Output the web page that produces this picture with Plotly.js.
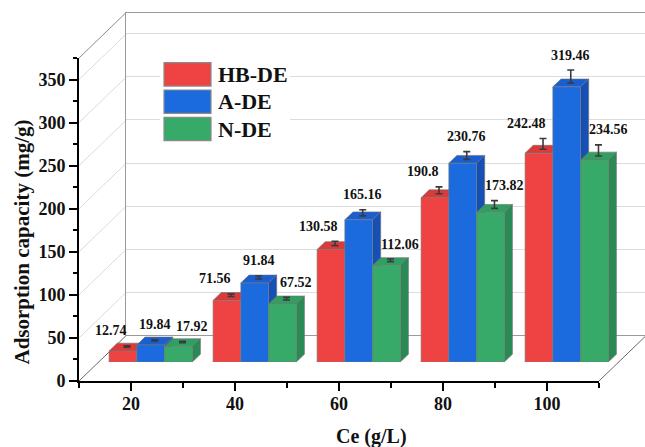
<!DOCTYPE html>
<html><head><meta charset="utf-8">
<script src="https://cdn.plot.ly/plotly-3.0.1.min.js"></script>
<style>html,body{margin:0;padding:0;background:#fff}#chart{width:645px;height:447px}</style>
</head><body><div id="chart"></div>
<script>
// ---------- data ----------
const ce = [20, 40, 60, 80, 100];
const seriesNames = ['HB-DE', 'A-DE', 'N-DE'];
const hbde = [12.74, 71.56, 130.58, 190.8, 242.48];
const ade = [19.84, 91.84, 165.16, 230.76, 319.46];
const nde = [17.92, 67.52, 112.06, 173.82, 234.56];
const hbdeErr = [1.5, 3, 5, 8, 12.5];
const adeErr = [1.5, 3.5, 7, 9, 15];
const ndeErr = [1.5, 3, 3, 9, 13];
const xTitle = 'Ce (g/L)';
const yTitle = 'Adsorption capacity (mg/g)';

const values = [hbde, ade, nde];
const errors = [hbdeErr, adeErr, ndeErr];

// ---------- styles ----------
const frontCol = ['#EF4343', '#1B6BDF', '#37AA6A'];
const topCol = ['#DA3A3A', '#1A5FD2', '#30A062'];
const sideCol = ['#BE3030', '#1650B4', '#2A8A55'];
const FONT = '"Liberation Serif", "Times New Roman", serif';
const labelShift = [-12, 4, 14];

// ---------- geometry ----------
const W = 645, HGT = 447;
const M = {l: 79, r: 0, t: 13, b: 66};
const PW = W - M.l - M.r, PH = HGT - M.t - M.b;
const FW = 520, FH = 323;        // front frame size (px)
const DX = 47.4, DY = 45.7;      // depth offset of the box (px)
const XR = [10, 110], YR = [0, 375];
const kx = FW / (XR[1] - XR[0]), ky = FH / (YR[1] - YR[0]);
const barFront = 0.415, barDepth = 0.172, bargap = 0.2;
const baseY = M.t + PH;          // pixel y of front floor edge
const px = x => (x - M.l) / PW;
const py = y => (baseY - y) / PH;

const step = ce[1] - ce[0];
const bw = (1 - bargap) * step / seriesNames.length;
const offs = seriesNames.map((_, i) => (i - (seriesNames.length - 1) / 2) * bw);
const ddx = barDepth * DX / kx, ddy = barDepth * DY / ky;

const traces = [];
const shapes = [];
const annotations = [];

// empty traces so the back wall and front frame subplots are built
traces.push({type: 'scatter', mode: 'markers', x: [], y: [], xaxis: 'x', yaxis: 'y', showlegend: false, hoverinfo: 'skip'});
traces.push({type: 'scatter', mode: 'markers', x: [], y: [], xaxis: 'x2', yaxis: 'y2', showlegend: false, hoverinfo: 'skip'});

// front faces
seriesNames.forEach((name, i) => {
  traces.push({
    type: 'bar', name: name, x: ce, y: values[i], xaxis: 'x3', yaxis: 'y3',
    marker: {color: frontCol[i], line: {color: '#7a7a7a', width: 0.6}},
    showlegend: false, hoverinfo: 'skip'
  });
});
// error bars at top-face centres
seriesNames.forEach((name, i) => {
  traces.push({
    type: 'scatter', mode: 'markers', xaxis: 'x3', yaxis: 'y3',
    x: ce.map(c => c + offs[i] + ddx / 2),
    y: values[i].map(v => v + ddy / 2),
    marker: {size: 2, color: 'rgba(0,0,0,0)'},
    error_y: {type: 'data', symmetric: false, array: errors[i], arrayminus: errors[i].map(() => 0),
              color: '#3a3a3a', thickness: 1.6, width: 3.5},
    cliponaxis: false, showlegend: false, hoverinfo: 'skip'
  });
});
// top and side faces, value labels
ce.forEach((c, j) => {
  seriesNames.forEach((name, i) => {
    const v = values[i][j];
    const x0 = c + offs[i] - bw / 2, x1 = c + offs[i] + bw / 2;
    shapes.push({type: 'path', xref: 'x3', yref: 'y3', layer: 'below',
      path: `M ${x0},${v} L ${x1},${v} L ${x1 + ddx},${v + ddy} L ${x0 + ddx},${v + ddy} Z`,
      fillcolor: topCol[i], line: {color: '#6f6f6f', width: 0.6}});
    shapes.push({type: 'path', xref: 'x3', yref: 'y3', layer: 'below',
      path: `M ${x1},0 L ${x1 + ddx},${ddy} L ${x1 + ddx},${v + ddy} L ${x1},${v} Z`,
      fillcolor: sideCol[i], line: {color: '#6f6f6f', width: 0.6}});
    annotations.push({xref: 'x3', yref: 'y3', x: c + offs[i], y: v + ddy / 2 + errors[i][j],
      text: String(v), showarrow: false, yanchor: 'middle', xanchor: 'center',
      yshift: 15, xshift: labelShift[i],
      font: {family: FONT, size: 14, weight: 'bold', color: '#111'}});
  });
});

// left wall gridlines and frame diagonals
for (let v = YR[0]; v <= YR[1]; v += 50) {
  const yf = baseY - (v - YR[0]) * ky;
  shapes.push({type: 'line', xref: 'paper', yref: 'paper', layer: 'below',
    x0: px(M.l), y0: py(yf), x1: px(M.l + DX), y1: py(yf - DY),
    line: {color: v === 0 ? '#6a6a6a' : '#dcdcdc', width: 1}});
}
shapes.push({type: 'line', xref: 'paper', yref: 'paper', layer: 'below',
  x0: px(M.l), y0: py(baseY - FH), x1: px(M.l + DX), y1: py(baseY - FH - DY),
  line: {color: '#8c8c8c', width: 1}});
shapes.push({type: 'line', xref: 'paper', yref: 'paper', layer: 'below',
  x0: px(M.l + FW), y0: py(baseY), x1: px(M.l + FW + DX), y1: py(baseY - DY),
  line: {color: '#6a6a6a', width: 1}});

// legend (drawn)
shapes.push({type: 'rect', xref: 'paper', yref: 'paper', layer: 'above',
  x0: px(160), x1: px(290), y0: py(58), y1: py(146), fillcolor: '#ffffff', line: {width: 0}});
const legTop = [62.7, 90, 117.3], legH = 23.4;
seriesNames.forEach((name, i) => {
  shapes.push({type: 'rect', xref: 'paper', yref: 'paper', layer: 'above',
    x0: px(164), x1: px(211), y0: py(legTop[i]), y1: py(legTop[i] + legH),
    fillcolor: frontCol[i], line: {color: '#8a8a8a', width: 1.2}});
  annotations.push({xref: 'paper', yref: 'paper', x: px(216), y: py(legTop[i] + legH / 2),
    xanchor: 'left', yanchor: 'middle', showarrow: false, text: name,
    font: {family: FONT, size: 22, weight: 'bold', color: '#111'}});
});

// axis titles
annotations.push({xref: 'paper', yref: 'paper', x: px(371.5), y: py(436.5), showarrow: false,
  xanchor: 'center', yanchor: 'middle', text: xTitle,
  font: {family: FONT, size: 20, weight: 'bold', color: '#111'}});
annotations.push({xref: 'paper', yref: 'paper', x: px(21.5), y: py(242), showarrow: false,
  xanchor: 'center', yanchor: 'middle', textangle: -90, text: yTitle,
  font: {family: FONT, size: 21, weight: 'bold', color: '#111'}});

const tickFont = {family: FONT, size: 18, weight: 'bold', color: '#111'};
const layout = {
  width: W, height: HGT, margin: M,
  paper_bgcolor: '#ffffff', plot_bgcolor: 'rgba(0,0,0,0)',
  showlegend: false, barmode: 'group', bargap: bargap, bargroupgap: 0,
  // back wall
  xaxis: {domain: [DX / PW, 1], range: [XR[0], XR[0] + (PW - DX) / kx], anchor: 'y',
    showline: true, mirror: true, linecolor: '#9a9a9a', linewidth: 1,
    showgrid: false, zeroline: false, showticklabels: false, ticks: ''},
  yaxis: {domain: [DY / PH, 1], range: [YR[0], YR[0] + (PH - DY) / ky], anchor: 'x',
    showline: true, linecolor: '#9a9a9a', linewidth: 1, showgrid: true, gridcolor: '#dcdcdc',
    gridwidth: 1, tick0: 0, dtick: 50, zeroline: false, showticklabels: false, ticks: ''},
  // front frame axes
  xaxis2: {domain: [0, FW / PW], range: XR, anchor: 'y2', showline: true, linecolor: '#000',
    linewidth: 2, ticks: 'outside', ticklen: 8, tickwidth: 2, tickcolor: '#000',
    tick0: 0, dtick: 20, showgrid: false, zeroline: false, tickfont: tickFont,
    ticklabelstandoff: -3,
    minor: {ticks: 'outside', tick0: 0, dtick: 10, ticklen: 5, tickwidth: 2, tickcolor: '#000', showgrid: false}},
  yaxis2: {domain: [0, FH / PH], range: YR, anchor: 'x2', showline: true, linecolor: '#000',
    linewidth: 2, ticks: 'outside', ticklen: 8, tickwidth: 2, tickcolor: '#000',
    tick0: 0, dtick: 50, showgrid: false, zeroline: false, tickfont: tickFont,
    ticklabelstandoff: 0,
    minor: {ticks: 'outside', tick0: 0, dtick: 25, ticklen: 4, tickwidth: 2, tickcolor: '#000', showgrid: false}},
  // bar plane
  xaxis3: {domain: [barFront * DX / PW, 1], range: [XR[0], XR[0] + (PW - barFront * DX) / kx],
    anchor: 'y3', visible: false, fixedrange: true},
  yaxis3: {domain: [barFront * DY / PH, 1], range: [YR[0], YR[0] + (PH - barFront * DY) / ky],
    anchor: 'x3', visible: false, fixedrange: true},
  shapes: shapes, annotations: annotations
};

Plotly.newPlot('chart', traces, layout, {staticPlot: true, displayModeBar: false});
</script>
</body></html>
